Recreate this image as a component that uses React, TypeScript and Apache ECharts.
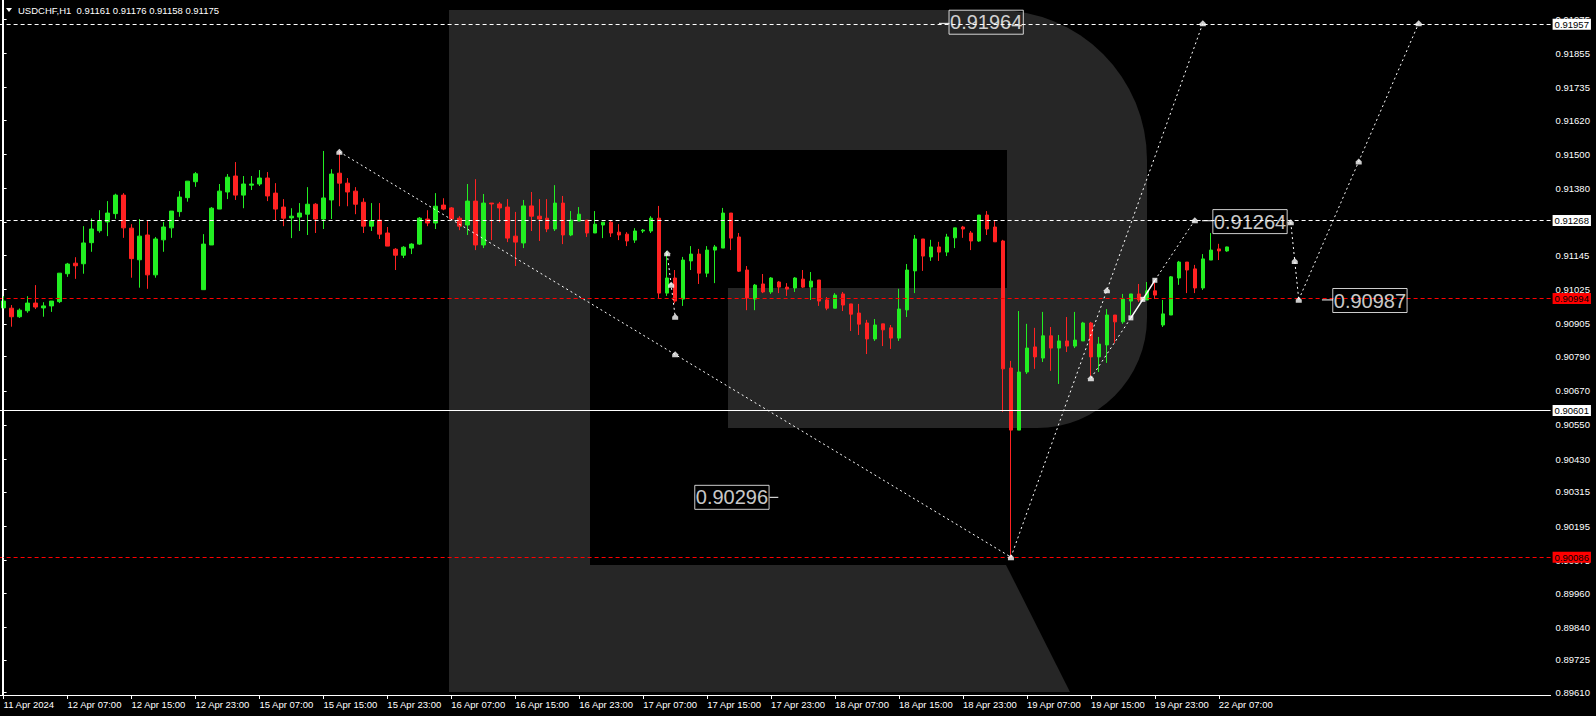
import React, { useEffect, useRef } from "react";
import * as echarts from "echarts";

const FONT = "'Liberation Sans', Arial, sans-serif";
const AXIS_FS = 9.5;
const UP = "#22ee22";
const DOWN = "#ff2222";
const GREY = "#262626";

const symbolName = "USDCHF,H1";
const N_SLOTS = 194;
const LABEL_EVERY = 8;

const xTickLabels = [
  "11 Apr 2024", "12 Apr 07:00", "12 Apr 15:00", "12 Apr 23:00", "15 Apr 07:00",
  "15 Apr 15:00", "15 Apr 23:00", "16 Apr 07:00", "16 Apr 15:00", "16 Apr 23:00",
  "17 Apr 07:00", "17 Apr 15:00", "17 Apr 23:00", "18 Apr 07:00", "18 Apr 15:00",
  "18 Apr 23:00", "19 Apr 07:00", "19 Apr 15:00", "19 Apr 23:00", "22 Apr 07:00",
];

// [open, high, low, close]
const ohlc: [number, number, number, number][] = [
  [0.90961, 0.91002, 0.90961, 0.90985],
  [0.90960, 0.90971, 0.90895, 0.90930],
  [0.90930, 0.90959, 0.90926, 0.90953],
  [0.90951, 0.91002, 0.90944, 0.90978],
  [0.90978, 0.91041, 0.90957, 0.90964],
  [0.90961, 0.90981, 0.90930, 0.90968],
  [0.90968, 0.90985, 0.90947, 0.90985],
  [0.90983, 0.91083, 0.90978, 0.91083],
  [0.91081, 0.91119, 0.91070, 0.91115],
  [0.91118, 0.91139, 0.91063, 0.91109],
  [0.91116, 0.91248, 0.91081, 0.91189],
  [0.91190, 0.91275, 0.91158, 0.91238],
  [0.91232, 0.91304, 0.91225, 0.91267],
  [0.91263, 0.91336, 0.91213, 0.91294],
  [0.91292, 0.91362, 0.91274, 0.91357],
  [0.91357, 0.91364, 0.91207, 0.91242],
  [0.91241, 0.91255, 0.91067, 0.91134],
  [0.91130, 0.91273, 0.91032, 0.91213],
  [0.91217, 0.91267, 0.91028, 0.91077],
  [0.91077, 0.91210, 0.91067, 0.91203],
  [0.91200, 0.91263, 0.91158, 0.91245],
  [0.91242, 0.91301, 0.91207, 0.91301],
  [0.91299, 0.91371, 0.91281, 0.91350],
  [0.91348, 0.91406, 0.91334, 0.91406],
  [0.91404, 0.91438, 0.91386, 0.91432],
  [0.91025, 0.91220, 0.91025, 0.91185],
  [0.91182, 0.91315, 0.91182, 0.91311],
  [0.91308, 0.91396, 0.91308, 0.91371],
  [0.91368, 0.91431, 0.91343, 0.91420],
  [0.91424, 0.91473, 0.91340, 0.91357],
  [0.91357, 0.91424, 0.91311, 0.91396],
  [0.91392, 0.91424, 0.91375, 0.91396],
  [0.91396, 0.91445, 0.91389, 0.91417],
  [0.91417, 0.91438, 0.91336, 0.91354],
  [0.91364, 0.91399, 0.91269, 0.91308],
  [0.91315, 0.91343, 0.91248, 0.91276],
  [0.91277, 0.91311, 0.91206, 0.91283],
  [0.91280, 0.91329, 0.91231, 0.91294],
  [0.91290, 0.91385, 0.91217, 0.91325],
  [0.91325, 0.91329, 0.91224, 0.91273],
  [0.91273, 0.91512, 0.91238, 0.91347],
  [0.91340, 0.91448, 0.91273, 0.91431],
  [0.91434, 0.91512, 0.91318, 0.91399],
  [0.91399, 0.91417, 0.91318, 0.91368],
  [0.91371, 0.91385, 0.91290, 0.91325],
  [0.91332, 0.91346, 0.91224, 0.91248],
  [0.91248, 0.91329, 0.91231, 0.91267],
  [0.91269, 0.91329, 0.91203, 0.91220],
  [0.91224, 0.91245, 0.91178, 0.91178],
  [0.91167, 0.91171, 0.91094, 0.91146],
  [0.91146, 0.91178, 0.91136, 0.91174],
  [0.91171, 0.91188, 0.91150, 0.91185],
  [0.91185, 0.91280, 0.91182, 0.91276],
  [0.91273, 0.91304, 0.91248, 0.91259],
  [0.91259, 0.91364, 0.91238, 0.91318],
  [0.91322, 0.91346, 0.91304, 0.91308],
  [0.91312, 0.91315, 0.91269, 0.91273],
  [0.91276, 0.91283, 0.91234, 0.91248],
  [0.91252, 0.91396, 0.91217, 0.91336],
  [0.91336, 0.91413, 0.91164, 0.91182],
  [0.91182, 0.91361, 0.91171, 0.91329],
  [0.91329, 0.91329, 0.91199, 0.91326],
  [0.91326, 0.91333, 0.91262, 0.91312],
  [0.91315, 0.91343, 0.91192, 0.91206],
  [0.91213, 0.91298, 0.91108, 0.91192],
  [0.91189, 0.91340, 0.91171, 0.91319],
  [0.91319, 0.91368, 0.91231, 0.91283],
  [0.91283, 0.91343, 0.91196, 0.91273],
  [0.91276, 0.91343, 0.91227, 0.91238],
  [0.91238, 0.91392, 0.91231, 0.91329],
  [0.91329, 0.91354, 0.91185, 0.91217],
  [0.91217, 0.91301, 0.91213, 0.91269],
  [0.91266, 0.91315, 0.91266, 0.91290],
  [0.91269, 0.91269, 0.91210, 0.91224],
  [0.91224, 0.91301, 0.91224, 0.91255],
  [0.91252, 0.91262, 0.91206, 0.91262],
  [0.91262, 0.91266, 0.91210, 0.91224],
  [0.91227, 0.91255, 0.91199, 0.91217],
  [0.91220, 0.91227, 0.91178, 0.91196],
  [0.91199, 0.91241, 0.91189, 0.91231],
  [0.91231, 0.91238, 0.91224, 0.91234],
  [0.91231, 0.91283, 0.91224, 0.91276],
  [0.91276, 0.91319, 0.90996, 0.91013],
  [0.91013, 0.91161, 0.91003, 0.91066],
  [0.91066, 0.91094, 0.90977, 0.90985],
  [0.90992, 0.91140, 0.90968, 0.91129],
  [0.91126, 0.91178, 0.91094, 0.91150],
  [0.91150, 0.91168, 0.91045, 0.91083],
  [0.91083, 0.91178, 0.91069, 0.91164],
  [0.91164, 0.91182, 0.91048, 0.91175],
  [0.91171, 0.91312, 0.91171, 0.91294],
  [0.91294, 0.91294, 0.91164, 0.91206],
  [0.91210, 0.91224, 0.91087, 0.91090],
  [0.91094, 0.91108, 0.90953, 0.90996],
  [0.90992, 0.91045, 0.90953, 0.91041],
  [0.91045, 0.91080, 0.91013, 0.91017],
  [0.91017, 0.91069, 0.91010, 0.91066],
  [0.91052, 0.91055, 0.91013, 0.91034],
  [0.91034, 0.91048, 0.91003, 0.91027],
  [0.91031, 0.91069, 0.91017, 0.91066],
  [0.91062, 0.91094, 0.91031, 0.91034],
  [0.91034, 0.91087, 0.90989, 0.91055],
  [0.91059, 0.91059, 0.90968, 0.90985],
  [0.90989, 0.90999, 0.90953, 0.90960],
  [0.90960, 0.91013, 0.90960, 0.91006],
  [0.91010, 0.91017, 0.90950, 0.90971],
  [0.90975, 0.90975, 0.90880, 0.90939],
  [0.90943, 0.90975, 0.90866, 0.90904],
  [0.90908, 0.90919, 0.90799, 0.90852],
  [0.90852, 0.90922, 0.90845, 0.90901],
  [0.90905, 0.90905, 0.90827, 0.90884],
  [0.90891, 0.90901, 0.90817, 0.90855],
  [0.90855, 0.91028, 0.90845, 0.90957],
  [0.90954, 0.91115, 0.90929, 0.91094],
  [0.91091, 0.91217, 0.91013, 0.91203],
  [0.91203, 0.91203, 0.91091, 0.91143],
  [0.91140, 0.91200, 0.91126, 0.91175],
  [0.91175, 0.91193, 0.91126, 0.91157],
  [0.91157, 0.91221, 0.91143, 0.91210],
  [0.91207, 0.91242, 0.91171, 0.91242],
  [0.91245, 0.91249, 0.91207, 0.91238],
  [0.91224, 0.91231, 0.91164, 0.91196],
  [0.91196, 0.91287, 0.91193, 0.91287],
  [0.91287, 0.91301, 0.91217, 0.91238],
  [0.91245, 0.91266, 0.91193, 0.91193],
  [0.91196, 0.91200, 0.90596, 0.90747],
  [0.90750, 0.90775, 0.90086, 0.90532],
  [0.90532, 0.90950, 0.90532, 0.90736],
  [0.90736, 0.90905, 0.90729, 0.90820],
  [0.90824, 0.90891, 0.90747, 0.90789],
  [0.90785, 0.90947, 0.90771, 0.90863],
  [0.90863, 0.90894, 0.90740, 0.90820],
  [0.90820, 0.90866, 0.90694, 0.90845],
  [0.90845, 0.90929, 0.90806, 0.90827],
  [0.90827, 0.90947, 0.90820, 0.90848],
  [0.90845, 0.90912, 0.90845, 0.90908],
  [0.90908, 0.90912, 0.90719, 0.90789],
  [0.90789, 0.90859, 0.90736, 0.90834],
  [0.90831, 0.90957, 0.90768, 0.90936],
  [0.90936, 0.90936, 0.90838, 0.90912],
  [0.90912, 0.91010, 0.90905, 0.90992],
  [0.90985, 0.91010, 0.90936, 0.91010],
  [0.91010, 0.91045, 0.90982, 0.90989],
  [0.90989, 0.91052, 0.90989, 0.91021],
  [0.91021, 0.91049, 0.90992, 0.91006],
  [0.90901, 0.90989, 0.90894, 0.90940],
  [0.90936, 0.91073, 0.90936, 0.91070],
  [0.91066, 0.91126, 0.91042, 0.91122],
  [0.91122, 0.91122, 0.91013, 0.91094],
  [0.91098, 0.91112, 0.91013, 0.91031],
  [0.91031, 0.91150, 0.91024, 0.91133],
  [0.91129, 0.91224, 0.91129, 0.91164],
  [0.91168, 0.91186, 0.91129, 0.91161],
  [0.91161, 0.91176, 0.91158, 0.91175],
];

const yTickValues = [
  0.8961, 0.89725, 0.8984, 0.8996, 0.90075, 0.90195, 0.90315, 0.9043, 0.9055, 0.9067,
  0.9079, 0.90905, 0.91025, 0.91145, 0.9126, 0.9138, 0.915, 0.9162, 0.91735, 0.91855, 0.91975,
];
const Y_MIN = 0.89602;
const Y_MAX = 0.92042;

const whiteDashLevels = [0.91957, 0.91268];
const redDashLevels = [0.90994, 0.90086];
const solidLevel = 0.90601;
const lastPrice = 0.91175;

// forecast paths: [barIndex, price]
const forecastDotted: [number, number][][] = [
  [[42, 0.91509], [126, 0.90086]],
  [[126, 0.90086], [150, 0.9196]],
  [[83, 0.91153], [84, 0.9093]],
  [[136, 0.90714], [141, 0.90926]],
  [[144, 0.91058], [149, 0.91269]],
  [[161, 0.91262], [162, 0.9099]],
  [[162, 0.9099], [177, 0.9196]],
];
const forecastSolid: [number, number][] = [[141, 0.90926], [142.5, 0.90991], [144, 0.91058]];
const arrowMarkers: [number, number][] = [
  [42, 0.91509], [84, 0.90798], [126, 0.90086], [138, 0.91023], [150, 0.9196],
  [83, 0.91153], [83.5, 0.91042], [84, 0.9093], [136, 0.90714], [149, 0.91269],
  [161, 0.91262], [161.5, 0.91126], [162, 0.9099], [169.5, 0.91475], [177, 0.9196],
];
const squareMarkers: [number, number][] = [[141, 0.90926], [142.5, 0.90991], [144, 0.91058]];
const connectors: [number, number][][] = [
  [[117.0, 0.9196], [118.3, 0.9196]],
  [[149.9, 0.91267], [151.3, 0.91267]],
  [[164.9, 0.90989], [166.3, 0.90989]],
  [[95.8, 0.90296], [96.9, 0.90296]],
];
const annotations = [
  { x: 122.9, v: 0.91964 },
  { x: 155.9, v: 0.91264 },
  { x: 91.1, v: 0.90296 },
  { x: 170.9, v: 0.90987 },
];

const HOUSE = "path://M0,3 L3,0 L6,3 L6,6 L0,6 Z";

const categories = Array.from({ length: N_SLOTS }, (_, i) =>
  i % LABEL_EVERY === 0 && xTickLabels[i / LABEL_EVERY] ? xTickLabels[i / LABEL_EVERY] : "b" + i
);
const showTick = (i: number) => i % LABEL_EVERY === 0 && i / LABEL_EVERY < xTickLabels.length;

const last = ohlc[ohlc.length - 1];
const headerText = `${symbolName}  ${last.map((v) => v.toFixed(5)).join(" ")}`;

function buildOption() {
  const lbl = (bg: string) => ({ backgroundColor: bg, color: "#000" });
  const markData: any[] = [
    ...whiteDashLevels.map((v) => ({ yAxis: v, lineStyle: { color: "#fff", type: [4, 3], width: 1 }, label: lbl("#fff") })),
    ...redDashLevels.map((v) => ({ yAxis: v, lineStyle: { color: "#ff0000", type: [4, 3], width: 1 }, label: lbl("#ff0000") })),
    { yAxis: solidLevel, lineStyle: { color: "#fff", type: "solid", width: 1 }, label: lbl("#fff") },
    { yAxis: lastPrice, lineStyle: { color: "#fff", opacity: 0 }, label: lbl("#fff") },
  ];

  const series: any[] = [
    {
      type: "candlestick",
      data: ohlc.map(([o, h, l, c]) => [o, c, l, h]),
      barWidth: 4,
      itemStyle: { color: UP, color0: DOWN, borderColor: UP, borderColor0: DOWN, borderWidth: 1 },
      z: 3,
      markLine: {
        silent: true,
        symbol: ["none", "none"],
        precision: 5,
        animation: false,
        label: {
          show: true,
          position: "end",
          distance: 2,
          fontSize: AXIS_FS,
          fontFamily: FONT,
          padding: [1, 2, 0, 2],
          formatter: (p: any) => Number(p.value).toFixed(5),
        },
        data: markData,
      },
    },
    ...forecastDotted.map((seg) => ({
      type: "line",
      xAxisIndex: 1,
      data: seg,
      symbol: "none",
      silent: true,
      lineStyle: { color: "#fff", width: 1, type: [2, 3] },
      z: 4,
    })),
    {
      type: "line",
      xAxisIndex: 1,
      data: forecastSolid,
      symbol: "none",
      silent: true,
      lineStyle: { color: "#fff", width: 1.5 },
      z: 4,
    },
    ...connectors.map((seg) => ({
      type: "line",
      xAxisIndex: 1,
      data: seg,
      symbol: "none",
      silent: true,
      lineStyle: { color: "#fff", width: 1 },
      z: 4,
    })),
    {
      type: "scatter",
      xAxisIndex: 1,
      data: arrowMarkers,
      symbol: HOUSE,
      symbolSize: 6,
      itemStyle: { color: "#fff" },
      silent: true,
      z: 5,
    },
    {
      type: "scatter",
      xAxisIndex: 1,
      data: squareMarkers,
      symbol: "rect",
      symbolSize: 5,
      itemStyle: { color: "#fff" },
      silent: true,
      z: 5,
    },
    {
      type: "scatter",
      xAxisIndex: 1,
      data: annotations.map((a) => ({ value: [a.x, a.v], label: { formatter: a.v.toFixed(5) } })),
      symbolSize: 1,
      itemStyle: { color: "rgba(0,0,0,0)" },
      silent: true,
      z: 6,
      label: {
        show: true,
        position: "inside",
        color: "#fff",
        fontSize: 20,
        fontFamily: FONT,
        lineHeight: 21,
        borderColor: "#fff",
        borderWidth: 1,
        padding: [2, 1, 1, 1],
      },
    },
  ];

  return {
    animation: false,
    backgroundColor: "#000",
    textStyle: { fontFamily: FONT },
    grid: { left: -0.4, top: 0, width: 1551, height: 695, containLabel: false, outerBoundsMode: "none" },
    xAxis: [
      {
        type: "category",
        data: categories,
        boundaryGap: true,
        axisLine: { show: true, lineStyle: { color: "#fff", width: 1 } },
        axisTick: {
          show: true,
          alignWithLabel: true,
          interval: (i: number) => showTick(i),
          length: 4,
          lineStyle: { color: "#fff" },
        },
        axisLabel: {
          interval: (i: number) => showTick(i),
          align: "left",
          color: "#fff",
          fontSize: AXIS_FS,
          fontFamily: FONT,
          margin: 4,
          hideOverlap: false,
        },
        splitLine: { show: false },
      },
      { type: "value", min: -0.5, max: N_SLOTS - 0.5, show: false, splitLine: { show: false } },
    ],
    yAxis: {
      type: "value",
      position: "right",
      min: Y_MIN,
      max: Y_MAX,
      scale: true,
      axisLine: { show: true, lineStyle: { color: "#fff", width: 1 } },
      axisTick: { show: true, customValues: yTickValues, length: 3, lineStyle: { color: "#fff" } },
      axisLabel: {
        customValues: yTickValues,
        formatter: (v: number) => v.toFixed(5),
        color: "#fff",
        fontSize: AXIS_FS,
        fontFamily: FONT,
        margin: 5,
      },
      splitLine: { show: false },
    },
    graphic: {
      elements: [
        { type: "rect", z: 0, shape: { x: 449, y: 10, width: 698, height: 418, r: [0, 150, 110, 0] }, style: { fill: GREY }, silent: true },
        { type: "rect", z: 0, shape: { x: 449, y: 10, width: 141, height: 682 }, style: { fill: GREY }, silent: true },
        { type: "polygon", z: 0, shape: { points: [[590, 565], [1006, 565], [1070, 692], [590, 692]] }, style: { fill: GREY }, silent: true },
        { type: "rect", z: 1, shape: { x: 590, y: 150, width: 417, height: 138 }, style: { fill: "#000" }, silent: true },
        { type: "rect", z: 1, shape: { x: 590, y: 288, width: 138, height: 140 }, style: { fill: "#000" }, silent: true },
        { type: "line", z: 10, shape: { x1: 2.5, y1: 0, x2: 2.5, y2: 695 }, style: { stroke: "#fff", lineWidth: 1 }, silent: true },
        { type: "polygon", z: 10, shape: { points: [[6, 8], [12, 8], [9, 12]] }, style: { fill: "#fff" }, silent: true },
        {
          type: "text",
          z: 10,
          x: 18,
          y: 5,
          style: { text: headerText, fill: "#fff", fontSize: 9.5, fontFamily: FONT },
          silent: true,
        },
      ],
    },
    series,
  };
}

export default function App() {
  const ref = useRef<HTMLDivElement>(null);
  useEffect(() => {
    if (!ref.current) return;
    const chart = echarts.init(ref.current, null, { renderer: "svg" });
    chart.setOption(buildOption() as any);
    return () => chart.dispose();
  }, []);
  return <div ref={ref} style={{ position: "absolute", left: 0, top: 0, width: 1596, height: 716 }} />;
}
